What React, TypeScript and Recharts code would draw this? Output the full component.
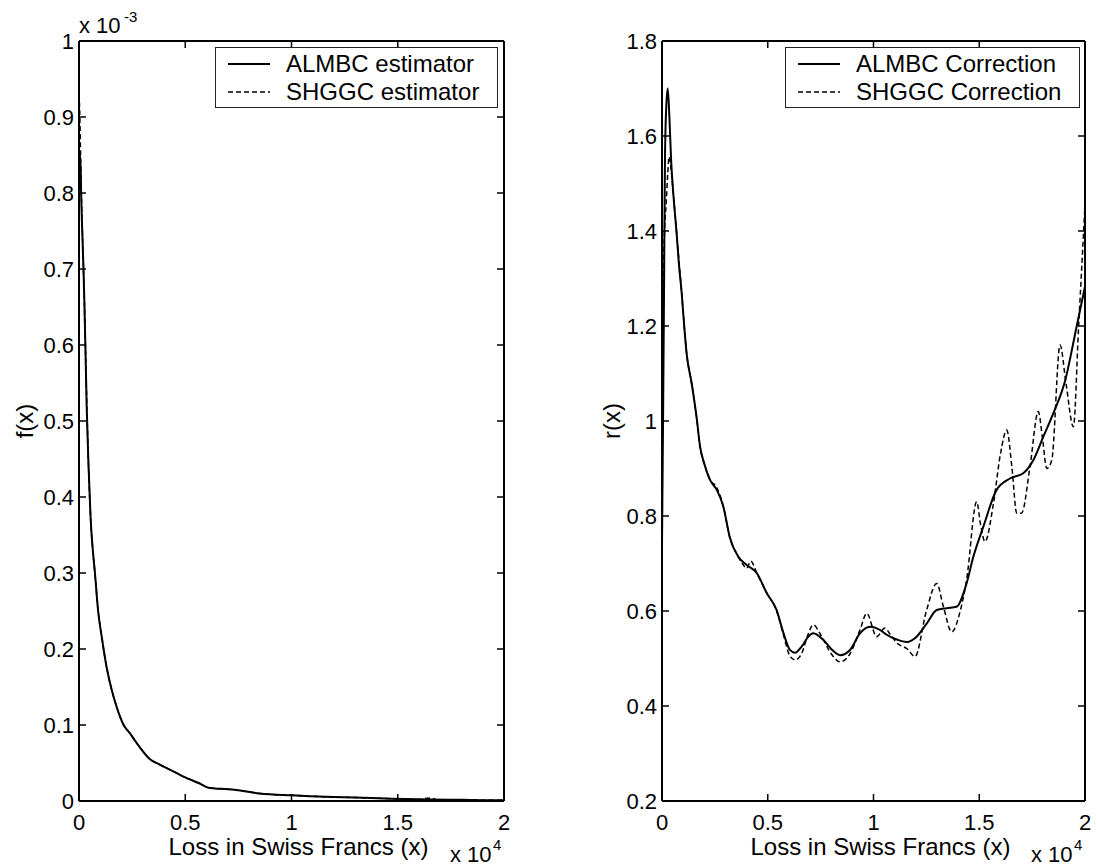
import { LineChart, Line, XAxis, YAxis } from "recharts";

// shared x ticks (units of 10^4 Swiss Francs)
const xTicks = [0, 0.5, 1, 1.5, 2];
const fTicks = [0, 0.1, 0.2, 0.3, 0.4, 0.5, 0.6, 0.7, 0.8, 0.9, 1];
const rTicks = [0.2, 0.4, 0.6, 0.8, 1, 1.2, 1.4, 1.6, 1.8];

// left panel: density estimates f(x), in units of 10^-3
const fAlmbcX = [
  0, 0.006, 0.01, 0.014, 0.02, 0.025, 0.03, 0.036, 0.045, 0.055, 0.065, 0.075, 0.09, 0.107, 0.13,
  0.155, 0.177, 0.21, 0.24, 0.28, 0.334, 0.38, 0.43, 0.507, 0.56, 0.616, 0.67, 0.72, 0.85, 1.0,
  1.16, 1.3, 1.47, 1.65, 1.8, 1.93, 2.0,
];
const fAlmbcY = [
  0.84, 0.85, 0.8, 0.76, 0.71, 0.66, 0.6, 0.52, 0.44, 0.37, 0.33, 0.3, 0.25, 0.216, 0.176,
  0.145, 0.124, 0.1, 0.089, 0.073, 0.055, 0.048, 0.041, 0.03, 0.024, 0.017, 0.016, 0.015, 0.01, 0.0075,
  0.0055, 0.0045, 0.003, 0.002, 0.0015, 0.001, 0.001,
];
const fShggcX = [
  0, 0.004, 0.008, 0.012, 0.016, 0.02, 0.025, 0.03, 0.036, 0.045, 0.055, 0.065, 0.075, 0.09, 0.107,
  0.13, 0.155, 0.177, 0.21, 0.24, 0.28, 0.334, 0.38, 0.43, 0.507, 0.56, 0.616, 0.67, 0.72, 0.85,
  1.0, 1.16, 1.3, 1.47, 1.6, 1.65, 1.7, 1.8, 1.93, 2.0,
];
const fShggcY = [
  0.93, 0.9, 0.84, 0.79, 0.75, 0.71, 0.66, 0.6, 0.53, 0.44, 0.37, 0.33, 0.3, 0.25, 0.216,
  0.176, 0.145, 0.124, 0.1, 0.089, 0.073, 0.055, 0.048, 0.041, 0.03, 0.024, 0.017, 0.016, 0.015, 0.01,
  0.0075, 0.0055, 0.0045, 0.003, 0.002, 0.004, 0.001, 0.0015, 0.001, 0.001,
];

// right panel: correction factor r(x)
const rAlmbcX = [
  0, 0.005, 0.01, 0.014, 0.02, 0.027, 0.035, 0.043, 0.055, 0.069, 0.08, 0.093, 0.105, 0.117, 0.14,
  0.164, 0.18, 0.2, 0.227, 0.259, 0.29, 0.32, 0.361, 0.4, 0.448, 0.495, 0.542, 0.574, 0.605, 0.629,
  0.66, 0.69, 0.715, 0.763, 0.8, 0.842, 0.889, 0.936, 0.983, 1.031, 1.062, 1.11, 1.157, 1.204, 1.252,
  1.299, 1.346, 1.393, 1.44, 1.472, 1.519, 1.582, 1.645, 1.708, 1.756, 1.803, 1.85, 1.905, 1.96, 2.0,
];
const rAlmbcY = [
  0.74, 1.0, 1.3, 1.55, 1.66, 1.7, 1.64, 1.55, 1.47, 1.396, 1.33, 1.27, 1.2, 1.14, 1.08,
  1.006, 0.946, 0.91, 0.876, 0.855, 0.82, 0.756, 0.714, 0.697, 0.68, 0.638, 0.602, 0.554, 0.518, 0.512,
  0.525, 0.545, 0.553, 0.539, 0.52, 0.507, 0.518, 0.553, 0.567, 0.56, 0.55, 0.54, 0.535, 0.546, 0.574,
  0.602, 0.606, 0.609, 0.658, 0.714, 0.777, 0.855, 0.879, 0.89, 0.918, 0.967, 1.016, 1.083, 1.198, 1.283,
];
const rShggcX = [
  0, 0.006, 0.012, 0.02, 0.027, 0.033, 0.043, 0.055, 0.069, 0.093, 0.117, 0.14, 0.164, 0.18, 0.2,
  0.227, 0.259, 0.29, 0.32, 0.361, 0.38, 0.4, 0.42, 0.448, 0.495, 0.542, 0.574, 0.605, 0.629, 0.66,
  0.69, 0.715, 0.75, 0.8, 0.842, 0.889, 0.936, 0.968, 1.015, 1.054, 1.08, 1.11, 1.16, 1.196, 1.25,
  1.299, 1.33, 1.37, 1.41, 1.44, 1.488, 1.507, 1.527, 1.567, 1.6, 1.63, 1.655, 1.677, 1.7, 1.74,
  1.779, 1.8, 1.819, 1.843, 1.882, 1.91, 1.945, 1.97, 2.0,
];
const rShggcY = [
  1.12, 1.3, 1.4, 1.46, 1.52, 1.556, 1.53, 1.47, 1.396, 1.27, 1.14, 1.08, 1.006, 0.946, 0.91,
  0.876, 0.86, 0.82, 0.756, 0.714, 0.7, 0.69, 0.705, 0.68, 0.638, 0.6, 0.55, 0.505, 0.497, 0.51,
  0.55, 0.571, 0.55, 0.51, 0.493, 0.51, 0.56, 0.595, 0.546, 0.564, 0.55, 0.533, 0.52, 0.504, 0.6,
  0.658, 0.61, 0.556, 0.6, 0.665, 0.83, 0.78, 0.746, 0.826, 0.93, 0.981, 0.9, 0.806, 0.806, 0.904,
  1.02, 0.96, 0.9, 0.918, 1.16, 1.08, 0.988, 1.2, 1.455,
];

const toPoints = (xs: number[], ys: number[]) => xs.map((x, i) => ({ x, y: ys[i] }));

const FONT = "'Liberation Sans', Arial, Helvetica, sans-serif";
const TICK_LEN = 7;
const axisLine = { stroke: "#000", strokeWidth: 2 };

// matlab-style ticks: the mark points into the plot, label sits outside
type Side = "bottom" | "top" | "left" | "right";
const makeTick = (side: Side) => (props: any) => {
  const { x, y, payload } = props;
  const label = String(payload.value);
  if (side === "bottom") {
    return (
      <g>
        <line x1={x} y1={y} x2={x} y2={y - TICK_LEN} stroke="#000" strokeWidth={1.5} />
        <text x={x} y={y + 29} textAnchor="middle" fontSize={22} fill="#000" fontFamily={FONT}>
          {label}
        </text>
      </g>
    );
  }
  if (side === "left") {
    return (
      <g>
        <line x1={x} y1={y} x2={x + TICK_LEN} y2={y} stroke="#000" strokeWidth={1.5} />
        <text x={x - 5} y={y + 8} textAnchor="end" fontSize={22} fill="#000" fontFamily={FONT}>
          {label}
        </text>
      </g>
    );
  }
  if (side === "top") {
    return <line x1={x} y1={y} x2={x} y2={y + TICK_LEN} stroke="#000" strokeWidth={1.5} />;
  }
  return <line x1={x} y1={y} x2={x - TICK_LEN} y2={y} stroke="#000" strokeWidth={1.5} />;
};

function xLabel(props: any) {
  const { x, y, width } = props.viewBox;
  return (
    <g fontFamily={FONT} fill="#000">
      <text x={x + width / 2 + 7} y={y + 54} textAnchor="middle" fontSize={24}>
        Loss in Swiss Francs (x)
      </text>
      <text x={x + width - 54} y={y + 61} fontSize={22}>
        x 10
      </text>
      <text x={x + width - 11} y={y + 49} fontSize={15}>
        4
      </text>
    </g>
  );
}

function expLabel(props: any) {
  const { x, y, height } = props.viewBox;
  const base = y + height;
  return (
    <g fontFamily={FONT} fill="#000">
      <text x={x} y={base - 8} fontSize={22}>
        x 10
      </text>
      <text x={x + 45} y={base - 19} fontSize={15}>
        -3
      </text>
    </g>
  );
}

function LegendBox({ left, width, labels }: { left: number; width: number; labels: string[] }) {
  return (
    <div
      style={{
        position: "absolute",
        left,
        top: 47,
        width,
        height: 61,
        border: "1px solid #222",
        background: "#fff",
        boxSizing: "border-box",
        fontFamily: FONT,
        fontSize: 24,
        color: "#000",
      }}
    >
      {labels.map((label, i) => (
        <div
          key={label}
          style={{ position: "absolute", left: 12, top: 2 + i * 28, height: 28, display: "flex", alignItems: "center" }}
        >
          <svg width={44} height={10} style={{ marginRight: 14 }}>
            <line
              x1={0}
              y1={5}
              x2={42}
              y2={5}
              stroke="#000"
              strokeWidth={i === 0 ? 2 : 1.5}
              strokeDasharray={i === 0 ? undefined : "5 3"}
            />
          </svg>
          <span style={{ whiteSpace: "nowrap" }}>{label}</span>
        </div>
      ))}
    </div>
  );
}

function Panel({
  width,
  leftAxisWidth,
  rightMargin,
  domain,
  yTicks,
  yLabel,
  yLabelDx,
  solid,
  dashed,
  showExp,
}: {
  width: number;
  leftAxisWidth: number;
  rightMargin: number;
  domain: [number, number];
  yTicks: number[];
  yLabel: string;
  yLabelDx: number;
  solid: { x: number; y: number }[];
  dashed: { x: number; y: number }[];
  showExp: boolean;
}) {
  return (
    <LineChart width={width} height={867} margin={{ top: 40, right: rightMargin - 1, bottom: 36, left: 0 }}>
      <XAxis
        dataKey="x"
        type="number"
        domain={[0, 2]}
        ticks={xTicks}
        allowDataOverflow
        height={30}
        tick={makeTick("bottom")}
        tickSize={0}
        tickMargin={0}
        axisLine={axisLine}
        tickLine={false}
        label={xLabel}
      />
      <XAxis
        xAxisId="top"
        orientation="top"
        dataKey="x"
        type="number"
        domain={[0, 2]}
        ticks={xTicks}
        allowDataOverflow
        height={1}
        tick={makeTick("top")}
        tickSize={0}
        tickMargin={0}
        axisLine={axisLine}
        tickLine={false}
        label={showExp ? expLabel : undefined}
      />
      <YAxis
        type="number"
        domain={domain}
        ticks={yTicks}
        allowDataOverflow
        width={leftAxisWidth}
        tick={makeTick("left")}
        tickSize={0}
        tickMargin={0}
        axisLine={axisLine}
        tickLine={false}
        label={{
          value: yLabel,
          angle: -90,
          position: "center",
          dx: yLabelDx,
          style: { fill: "#000", fontSize: 24, fontFamily: FONT },
        }}
      />
      <YAxis
        yAxisId="right"
        orientation="right"
        type="number"
        domain={domain}
        ticks={yTicks}
        allowDataOverflow
        width={1}
        tick={makeTick("right")}
        tickSize={0}
        tickMargin={0}
        axisLine={axisLine}
        tickLine={false}
      />
      <Line
        data={solid}
        dataKey="y"
        type="monotone"
        stroke="#000"
        strokeWidth={2}
        dot={false}
        isAnimationActive={false}
      />
      <Line
        data={dashed}
        dataKey="y"
        xAxisId="top"
        yAxisId="right"
        type="monotone"
        stroke="#000"
        strokeWidth={1.5}
        strokeDasharray="5 3"
        dot={false}
        isAnimationActive={false}
      />
    </LineChart>
  );
}

export default function App() {
  return (
    <div
      style={{
        position: "absolute",
        left: 0,
        top: 0,
        width: 1097,
        height: 867,
        background: "#fff",
        fontFamily: FONT,
        overflow: "hidden",
      }}
    >
      <div style={{ position: "absolute", left: 0, top: 0 }}>
        <Panel
          width={540}
          leftAxisWidth={79}
          rightMargin={36}
          domain={[0, 1]}
          yTicks={fTicks}
          yLabel="f(x)"
          yLabelDx={-15}
          solid={toPoints(fAlmbcX, fAlmbcY)}
          dashed={toPoints(fShggcX, fShggcY)}
          showExp
        />
      </div>
      <div style={{ position: "absolute", left: 580, top: 0 }}>
        <Panel
          width={517}
          leftAxisWidth={82}
          rightMargin={12}
          domain={[0.2, 1.8]}
          yTicks={rTicks}
          yLabel="r(x)"
          yLabelDx={-10}
          solid={toPoints(rAlmbcX, rAlmbcY)}
          dashed={toPoints(rShggcX, rShggcY)}
          showExp={false}
        />
      </div>
      <LegendBox left={215} width={283} labels={["ALMBC estimator", "SHGGC estimator"]} />
      <LegendBox left={785} width={295} labels={["ALMBC Correction", "SHGGC Correction"]} />
    </div>
  );
}
